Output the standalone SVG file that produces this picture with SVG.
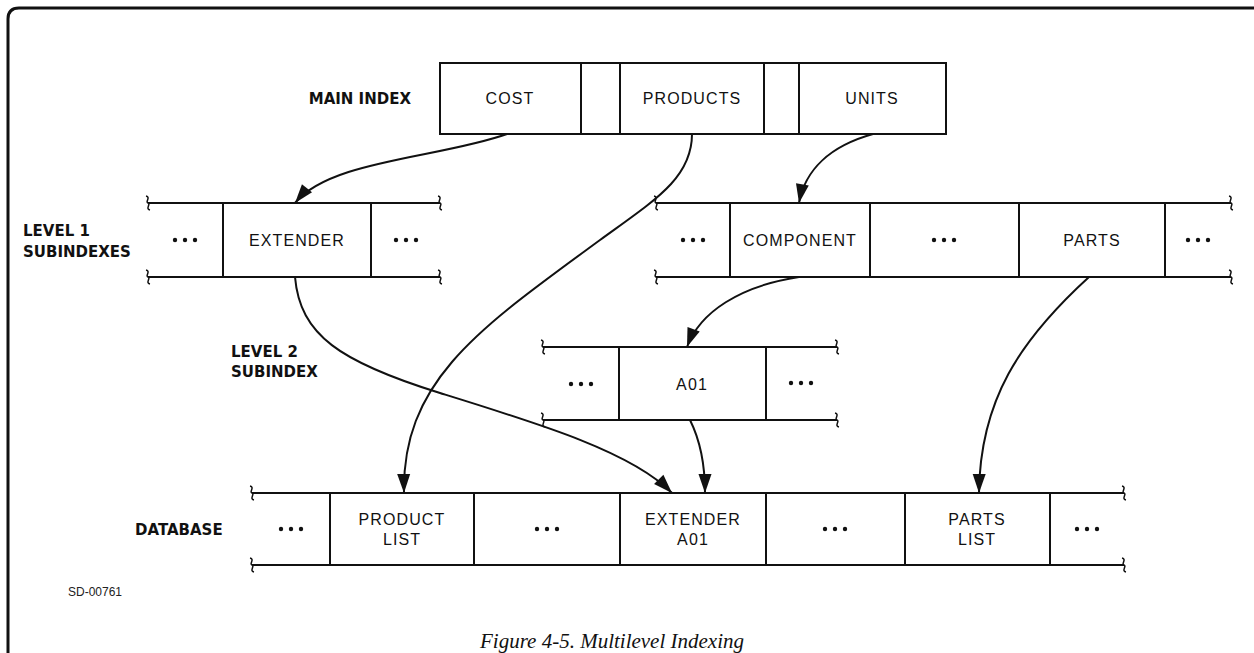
<svg xmlns="http://www.w3.org/2000/svg" width="1254" height="653" viewBox="0 0 1254 653">
  <style>
    .ln { fill: none; stroke: #111; stroke-width: 2; }
    .cell { font-family: "Liberation Sans", Arial, sans-serif; font-size: 16px; letter-spacing: 1.1px; fill: #111; text-anchor: middle; }
    .lbl { font-family: "DejaVu Sans", "Liberation Sans", sans-serif; font-weight: bold; font-size: 15px; fill: #111; }
    .cap { font-family: "Liberation Serif", "Times New Roman", serif; font-style: italic; font-size: 21px; fill: #111; text-anchor: middle; }
    .code { font-family: "Liberation Sans", Arial, sans-serif; font-size: 12px; fill: #222; }
    .arrow { fill: none; stroke: #111; stroke-width: 2; marker-end: url(#head); }
  </style>
  <defs>
    <marker id="head" markerUnits="userSpaceOnUse" viewBox="-20 -8 22 16" refX="0" refY="0" markerWidth="22" markerHeight="16" orient="auto">
      <path d="M0,0 L-19,-6.5 L-19,6.5 Z" fill="#111"/>
    </marker>
    <!-- small brace marking a continued row -->
    <path id="brace" d="M-2,-7 C3,-6 -3,-1 0,0 C3,1 -3,6 2,7" fill="none" stroke="#111" stroke-width="1.5"/>
    <g id="dots" fill="#111">
      <circle cx="-10" cy="0" r="2.2"/>
      <circle cx="0" cy="0" r="2.2"/>
      <circle cx="10" cy="0" r="2.2"/>
    </g>
  </defs>

  <rect width="1254" height="653" fill="#fff"/>

  <!-- frame -->
  <path d="M1254,8 H19 Q8,8 8,19 V653" fill="none" stroke="#111" stroke-width="3"/>

  <!-- row labels -->
  <text class="lbl" x="411" y="104" text-anchor="end">MAIN INDEX</text>
  <text class="lbl" x="23" y="236">LEVEL 1</text>
  <text class="lbl" x="23" y="257">SUBINDEXES</text>
  <text class="lbl" x="231" y="357">LEVEL 2</text>
  <text class="lbl" x="231" y="377">SUBINDEX</text>
  <text class="lbl" x="135" y="535">DATABASE</text>

  <!-- main index -->
  <g id="main-index">
    <rect class="ln" x="440" y="63" width="506" height="71"/>
    <path class="ln" d="M581,63 V134 M620,63 V134 M764,63 V134 M799,63 V134"/>
    <text class="cell" x="510" y="104">COST</text>
    <text class="cell" x="692" y="104">PRODUCTS</text>
    <text class="cell" x="872" y="104">UNITS</text>
  </g>

  <!-- level 1 subindex, left -->
  <g id="level1-left">
    <path class="ln" d="M148,203 H440 M148,277 H440 M223,203 V277 M371,203 V277"/>
    <use href="#brace" x="148" y="203"/><use href="#brace" x="148" y="277"/>
    <use href="#brace" x="440" y="203"/><use href="#brace" x="440" y="277"/>
    <use href="#dots" x="185" y="240"/>
    <text class="cell" x="297" y="246">EXTENDER</text>
    <use href="#dots" x="406" y="240"/>
  </g>

  <!-- level 1 subindex, right -->
  <g id="level1-right">
    <path class="ln" d="M656,203 H1231 M656,277 H1231 M730,203 V277 M870,203 V277 M1019,203 V277 M1165,203 V277"/>
    <use href="#brace" x="656" y="203"/><use href="#brace" x="656" y="277"/>
    <use href="#brace" x="1231" y="203"/><use href="#brace" x="1231" y="277"/>
    <use href="#dots" x="693" y="240"/>
    <text class="cell" x="800" y="246">COMPONENT</text>
    <use href="#dots" x="944" y="240"/>
    <text class="cell" x="1092" y="246">PARTS</text>
    <use href="#dots" x="1198" y="240"/>
  </g>

  <!-- level 2 subindex -->
  <g id="level2">
    <path class="ln" d="M543,347 H837 M543,420 H837 M619,347 V420 M766,347 V420"/>
    <use href="#brace" x="543" y="347"/><use href="#brace" x="543" y="420"/>
    <use href="#brace" x="837" y="347"/><use href="#brace" x="837" y="420"/>
    <use href="#dots" x="581" y="384"/>
    <text class="cell" x="692" y="390">A01</text>
    <use href="#dots" x="801" y="383"/>
  </g>

  <!-- database -->
  <g id="database">
    <path class="ln" d="M252,493 H1124 M252,565 H1124 M330,493 V565 M474,493 V565 M620,493 V565 M766,493 V565 M905,493 V565 M1050,493 V565"/>
    <use href="#brace" x="252" y="493"/><use href="#brace" x="252" y="565"/>
    <use href="#brace" x="1124" y="493"/><use href="#brace" x="1124" y="565"/>
    <use href="#dots" x="291" y="529"/>
    <text class="cell" x="402" y="525">PRODUCT</text>
    <text class="cell" x="402" y="545">LIST</text>
    <use href="#dots" x="547" y="529"/>
    <text class="cell" x="693" y="525">EXTENDER</text>
    <text class="cell" x="693" y="545">A01</text>
    <use href="#dots" x="835" y="529"/>
    <text class="cell" x="977" y="525">PARTS</text>
    <text class="cell" x="977" y="545">LIST</text>
    <use href="#dots" x="1087" y="529"/>
  </g>

  <!-- pointers -->
  <g id="connectors">
    <path class="arrow" d="M507,134 C440,158 330,160 295,203"/>
    <path class="arrow" d="M692,134 C692,178 655,200 600,240 C480,328 402,380 404,493"/>
    <path class="arrow" d="M873,134 C830,146 805,170 799,203"/>
    <path class="arrow" d="M295,277 C300,335 340,362 440,393 C540,424 632,452 672,493"/>
    <path class="arrow" d="M799,277 C740,286 700,312 687,347"/>
    <path class="arrow" d="M690,420 C700,440 705,462 705,493"/>
    <path class="arrow" d="M1089,277 C1020,340 980,400 979,493"/>
  </g>

  <text class="code" x="68" y="596">SD-00761</text>
  <text class="cap" x="612" y="648">Figure 4-5.  Multilevel Indexing</text>
</svg>
